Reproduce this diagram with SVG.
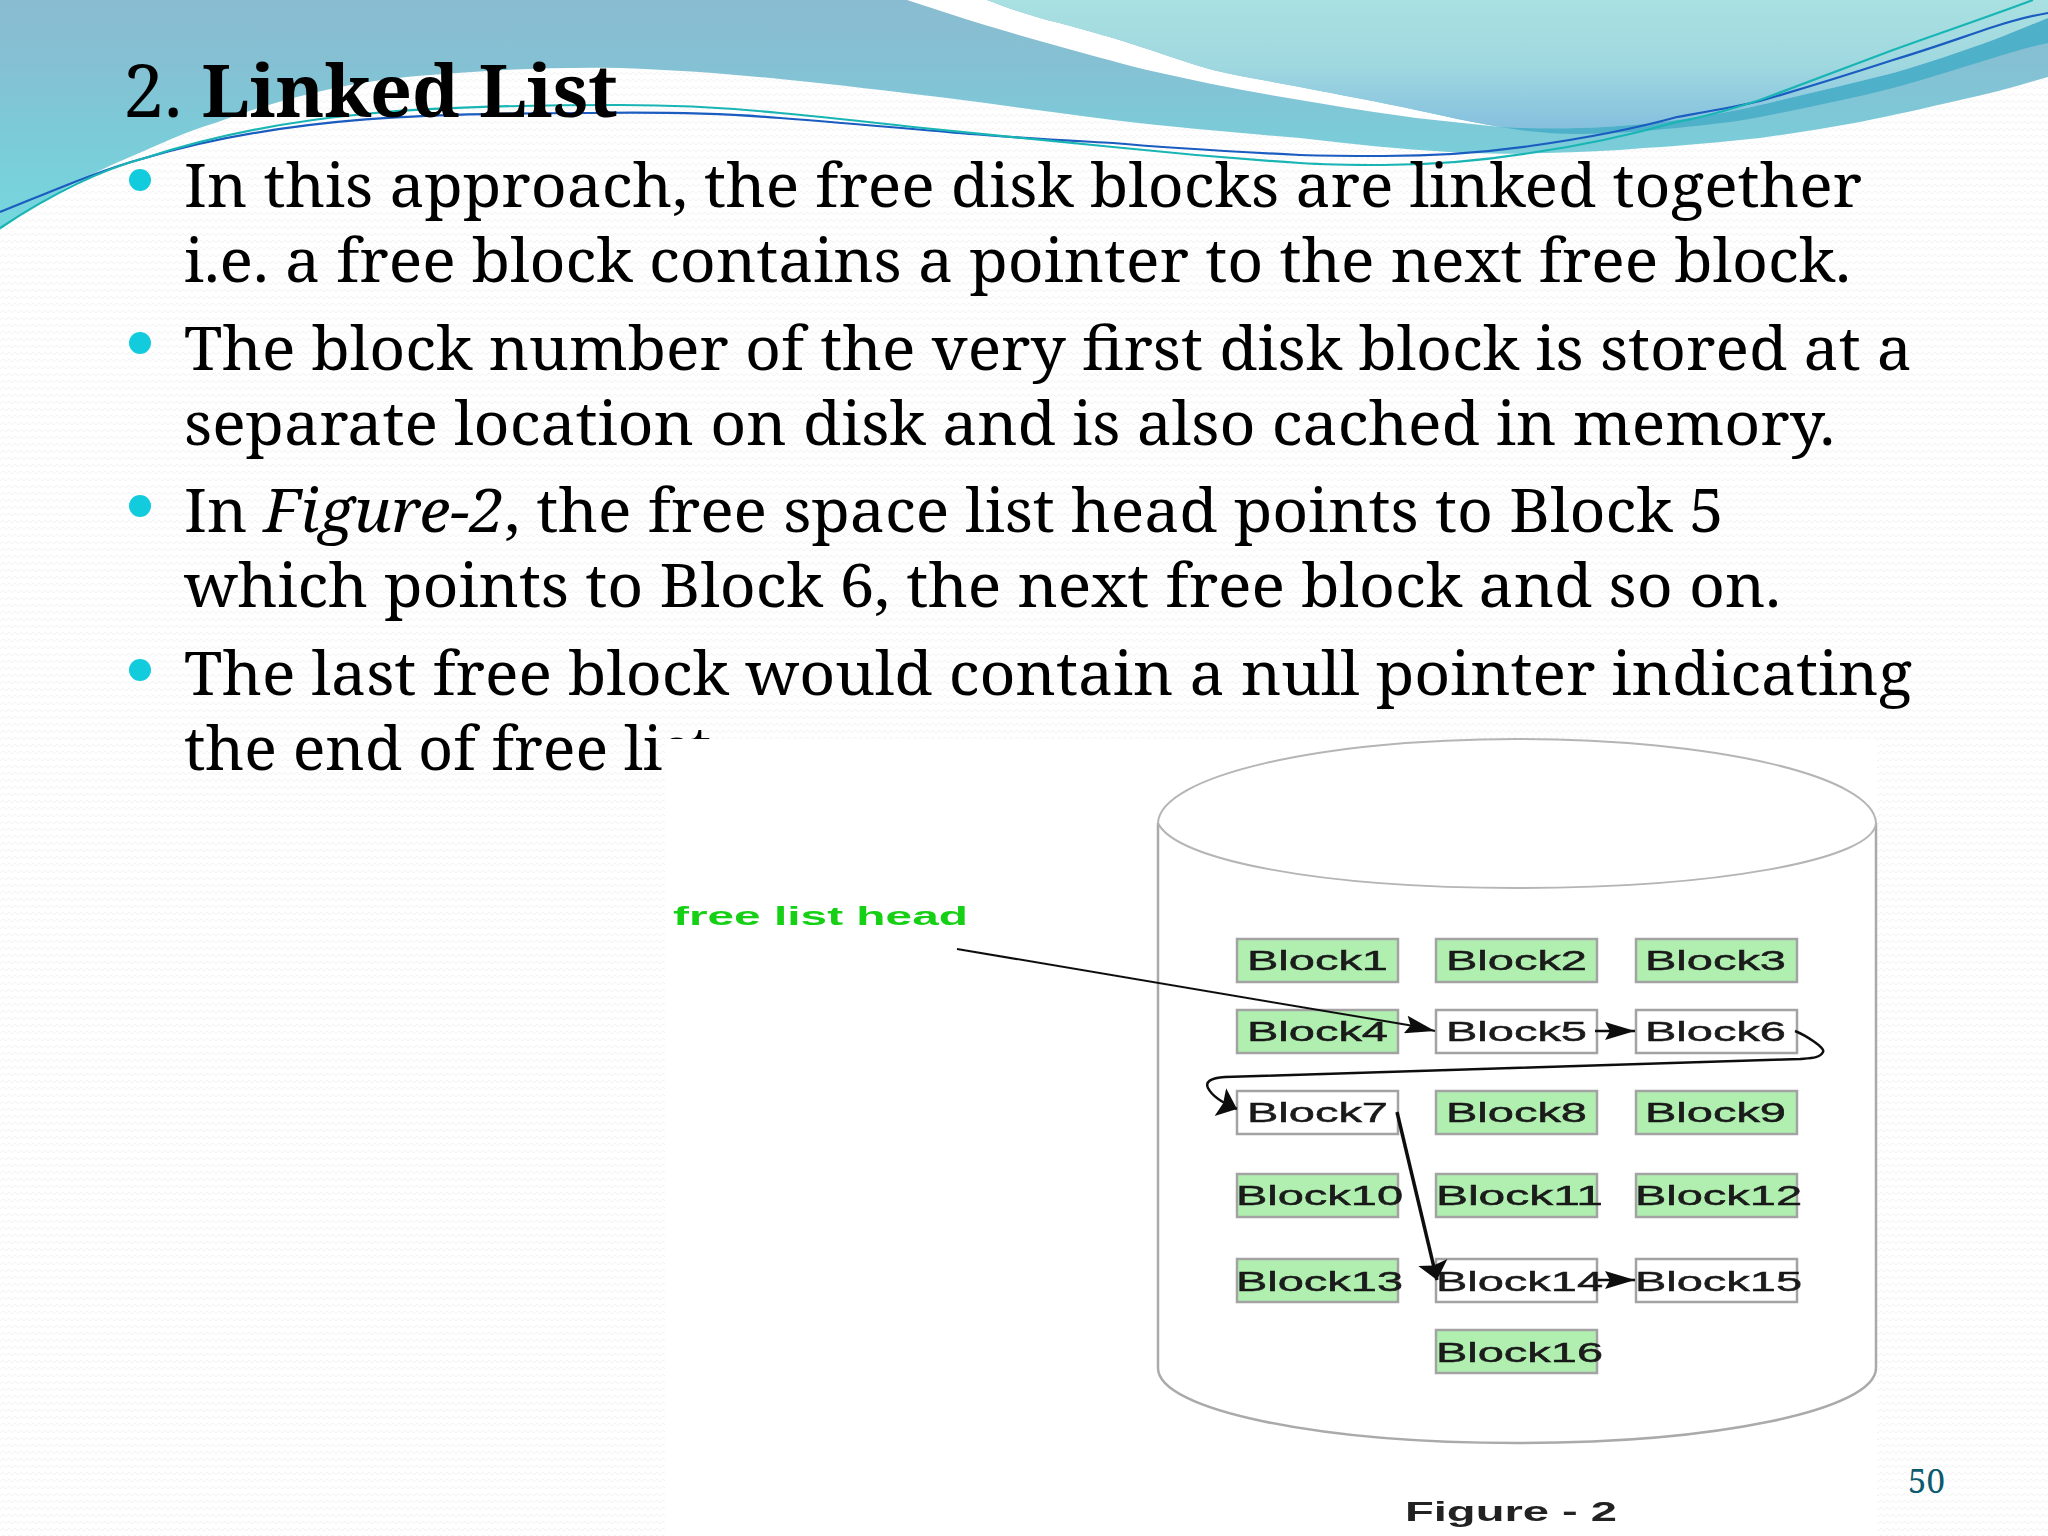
<svg xmlns="http://www.w3.org/2000/svg" width="2048" height="1536" viewBox="0 0 2048 1536">
<style>
.b{font-family:"Noto Serif","DejaVu Serif",serif;font-size:61px;fill:#000}
.t{font-family:"Noto Serif","DejaVu Serif",serif;font-size:73.5px;fill:#000}
.lbl{font-family:"Liberation Sans",Arial,sans-serif;font-size:28px;fill:#1a1a1a;stroke:#1a1a1a;stroke-width:.5}
.g{fill:#b0efb0;stroke:#a3a3a3;stroke-width:2.5}
.w{fill:#fff;stroke:#a3a3a3;stroke-width:2.5}
.c{fill:none;stroke:#111;stroke-width:2.5}
.dot{fill:#12cbdc}
</style>
<defs>
<pattern id="tex" patternUnits="userSpaceOnUse" width="12" height="7"><rect width="12" height="7" fill="#fff"/><path d="M0 5L3 2L6 5L9 2L12 5" fill="none" stroke="#f3f3f3"/></pattern>
<linearGradient id="g1" gradientUnits="userSpaceOnUse" x1="0" y1="0" x2="0" y2="235"><stop offset="0" stop-color="#8abcd1"/><stop offset=".26" stop-color="#85c0d3"/><stop offset=".55" stop-color="#7ccad8"/><stop offset="1" stop-color="#74d8de"/></linearGradient>
<linearGradient id="g2" gradientUnits="userSpaceOnUse" x1="0" y1="0" x2="0" y2="130"><stop offset="0" stop-color="#a9e0e1"/><stop offset=".5" stop-color="#a0d8e0"/><stop offset="1" stop-color="#84bfde"/></linearGradient>
<filter id="soft" x="-5%" y="-5%" width="110%" height="110%"><feGaussianBlur stdDeviation="0.6"/></filter>
<marker id="ah" markerUnits="userSpaceOnUse" markerWidth="32" markerHeight="18" refX="30" refY="9" orient="auto"><path d="M0 0L30 9L0 18L5 9Z" fill="#111"/></marker>
<marker id="av" markerUnits="userSpaceOnUse" markerWidth="20" markerHeight="32" refX="18" refY="16" orient="auto"><path d="M0 1L18 16L0 31L3 16Z" fill="#111"/></marker>
</defs>
<rect id="background" width="2048" height="1536" fill="url(#tex)"/>
<g id="waves">
<path d="M0 230C40 200 85 176 130 157C160 144 185 132 215 123C250 110 285 99 326 90C370 80 410 76 457 73C510 69 565 67 620 68C680 70 730 74 780 79C840 85 890 91 947 98C1000 105 1060 113 1113 120C1180 128 1240 133 1300 138C1350 144 1400 149 1449 152C1480 154 1515 154 1546 153C1580 152 1612 151 1644 148C1680 146 1720 142 1760 138C1795 133 1828 128 1860 122C1895 115 1925 108 1960 100C1990 94 2020 85 2048 77V0H0Z" fill="url(#g1)"/>
<path d="M907 0L947 13C980 24 1015 34 1047 43C1080 52 1115 62 1147 70C1200 82 1250 92 1300 100C1340 107 1380 113 1416 118L1500 127C1470 122 1445 116 1416 110C1380 102 1340 95 1300 87C1270 81 1240 77 1213 70C1180 61 1150 49 1113 38C1095 33 1080 28 1047 20C1025 14 1005 7 987 0Z" fill="#fff"/>
<path d="M1500 127C1530 132 1555 134 1579 134C1610 134 1645 131 1677 128C1705 125 1735 122 1760 117C1805 108 1850 99 1893 88C1930 78 1960 68 1993 58C2012 52 2030 47 2048 43V18C2030 25 2012 33 1993 40C1960 52 1928 63 1893 73C1850 84 1805 94 1760 105C1730 112 1705 116 1677 120C1620 128 1560 130 1500 127Z" fill="#4fb0c9"/>
<path d="M987 0H2048V18C2030 25 2012 33 1993 40C1960 52 1928 63 1893 73C1850 84 1805 94 1760 105C1730 112 1705 116 1677 120C1620 128 1560 130 1500 127C1470 122 1445 116 1416 110C1380 102 1340 95 1300 87C1270 81 1240 77 1213 70C1180 61 1150 49 1113 38C1095 33 1080 28 1047 20C1025 14 1005 7 987 0Z" fill="url(#g2)"/>
<path d="M0 212C50 192 100 170 145 158C290 115 440 113 590 113C660 112 720 113 780 118C835 122 890 127 947 132C1000 137 1060 140 1113 143C1180 149 1240 152 1300 155C1330 156 1355 156 1383 156C1430 156 1480 153 1530 146C1580 139 1630 130 1677 117C1705 112 1735 107 1760 101C1805 88 1850 74 1893 60C1930 49 1960 38 1993 27C2012 21 2030 16 2048 13" fill="none" stroke="#1a5cc0" stroke-width="2.2"/>
<path d="M0 228C50 195 100 170 145 158C290 110 440 105 620 105C680 105 730 108 780 113C825 117 870 122 913 127C980 134 1050 141 1113 147C1180 154 1240 159 1300 163C1330 165 1355 165 1383 165C1430 165 1480 161 1530 153C1580 146 1630 135 1677 122C1705 117 1735 108 1760 100C1805 83 1850 66 1893 50C1940 33 1985 18 2033 0" fill="none" stroke="#19b5b5" stroke-width="2.2"/>
</g>
<g id="slide-text">
<text class="t" x="123" y="117">2. <tspan font-weight="700">Linked List</tspan></text>
<ellipse class="dot" cx="140" cy="180" rx="11" ry="11"/>
<text class="b" x="184" y="207" textLength="1678" lengthAdjust="spacingAndGlyphs">In this approach, the free disk blocks are linked together</text>
<text class="b" x="184" y="282" textLength="1667" lengthAdjust="spacingAndGlyphs">i.e. a free block contains a pointer to the next free block.</text>
<ellipse class="dot" cx="140" cy="343" rx="11" ry="11"/>
<text class="b" x="184" y="370" textLength="1728" lengthAdjust="spacingAndGlyphs">The block number of the very first disk block is stored at a</text>
<text class="b" x="184" y="445" textLength="1651" lengthAdjust="spacingAndGlyphs">separate location on disk and is also cached in memory.</text>
<ellipse class="dot" cx="140" cy="506" rx="11" ry="11"/>
<text class="b" x="184" y="532" textLength="1540" lengthAdjust="spacingAndGlyphs">In <tspan font-style="italic">Figure-2</tspan>, the free space list head points to Block 5</text>
<text class="b" x="184" y="607" textLength="1597" lengthAdjust="spacingAndGlyphs">which points to Block 6, the next free block and so on.</text>
<ellipse class="dot" cx="140" cy="670" rx="11" ry="11"/>
<text class="b" x="184" y="695" textLength="1728" lengthAdjust="spacingAndGlyphs">The last free block would contain a null pointer indicating</text>
<text class="b" x="184" y="770">the end of free list.</text>
</g>
<rect id="figure-panel" x="665" y="739" width="1212" height="797" fill="#fff"/>
<g id="figure" filter="url(#soft)">
<path id="cylinder" d="M1158 823V1368C1158 1410 1318 1443 1517 1443C1716 1443 1876 1410 1876 1368V823" fill="none" stroke="#aaa" stroke-width="2.5"/>
<path id="cylinder-top" d="M1158 823C1160 776 1320 739 1517 739C1714 739 1874 776 1876 823C1874 860 1714 888 1517 888C1320 888 1175 860 1158 823Z" fill="#fff" stroke="#b5b5b5" stroke-width="2"/>
<g id="free-list-head"><text x="673" y="925" textLength="295" lengthAdjust="spacingAndGlyphs" font-family="Liberation Sans,Arial,sans-serif" font-size="26" font-weight="700" fill="#15d015">free list head</text></g>
<g id="Block1"><rect class="g" x="1237" y="939" width="161" height="43"/><text class="lbl" x="1247" y="970" textLength="141" lengthAdjust="spacingAndGlyphs">Block1</text></g>
<g id="Block2"><rect class="g" x="1436" y="939" width="161" height="43"/><text class="lbl" x="1446" y="970" textLength="141" lengthAdjust="spacingAndGlyphs">Block2</text></g>
<g id="Block3"><rect class="g" x="1636" y="939" width="161" height="43"/><text class="lbl" x="1645" y="970" textLength="141" lengthAdjust="spacingAndGlyphs">Block3</text></g>
<g id="Block4"><rect class="g" x="1237" y="1010" width="161" height="43"/><text class="lbl" x="1247" y="1041" textLength="141" lengthAdjust="spacingAndGlyphs">Block4</text></g>
<g id="Block5"><rect class="w" x="1436" y="1010" width="161" height="43"/><text class="lbl" x="1446" y="1041" textLength="141" lengthAdjust="spacingAndGlyphs">Block5</text></g>
<g id="Block6"><rect class="w" x="1636" y="1010" width="161" height="43"/><text class="lbl" x="1645" y="1041" textLength="141" lengthAdjust="spacingAndGlyphs">Block6</text></g>
<g id="Block7"><rect class="w" x="1237" y="1091" width="161" height="43"/><text class="lbl" x="1247" y="1122" textLength="141" lengthAdjust="spacingAndGlyphs">Block7</text></g>
<g id="Block8"><rect class="g" x="1436" y="1091" width="161" height="43"/><text class="lbl" x="1446" y="1122" textLength="141" lengthAdjust="spacingAndGlyphs">Block8</text></g>
<g id="Block9"><rect class="g" x="1636" y="1091" width="161" height="43"/><text class="lbl" x="1645" y="1122" textLength="141" lengthAdjust="spacingAndGlyphs">Block9</text></g>
<g id="Block10"><rect class="g" x="1237" y="1174" width="161" height="43"/><text class="lbl" x="1236" y="1205" textLength="167" lengthAdjust="spacingAndGlyphs">Block10</text></g>
<g id="Block11"><rect class="g" x="1436" y="1174" width="161" height="43"/><text class="lbl" x="1436" y="1205" textLength="167" lengthAdjust="spacingAndGlyphs">Block11</text></g>
<g id="Block12"><rect class="g" x="1636" y="1174" width="161" height="43"/><text class="lbl" x="1635" y="1205" textLength="167" lengthAdjust="spacingAndGlyphs">Block12</text></g>
<g id="Block13"><rect class="g" x="1237" y="1259" width="161" height="43"/><text class="lbl" x="1236" y="1291" textLength="167" lengthAdjust="spacingAndGlyphs">Block13</text></g>
<g id="Block14"><rect class="w" x="1436" y="1259" width="161" height="43"/><text class="lbl" x="1436" y="1291" textLength="167" lengthAdjust="spacingAndGlyphs">Block14</text></g>
<g id="Block15"><rect class="w" x="1636" y="1259" width="161" height="43"/><text class="lbl" x="1635" y="1291" textLength="167" lengthAdjust="spacingAndGlyphs">Block15</text></g>
<g id="Block16"><rect class="g" x="1436" y="1330" width="161" height="43"/><text class="lbl" x="1436" y="1362" textLength="167" lengthAdjust="spacingAndGlyphs">Block16</text></g>
<g id="figure-caption"><text x="1405" y="1521" textLength="212" lengthAdjust="spacingAndGlyphs" font-family="Liberation Sans,Arial,sans-serif" font-size="27" font-weight="700" fill="#222">Figure - 2</text></g>
<g id="connectors">
<path class="c" style="stroke-width:2" d="M957 949L1408 1025L1435 1031" marker-end="url(#ah)"/>
<path class="c" d="M1595 1031H1635" marker-end="url(#ah)"/>
<path class="c" d="M1795 1031C1805 1035 1826 1048 1823 1052C1820 1058 1812 1058 1800 1059C1600 1066 1400 1070 1225 1077C1210 1078 1205 1082 1208 1088C1212 1096 1225 1104 1237 1109" marker-end="url(#av)"/>
<path class="c" style="stroke-width:3.5" d="M1397 1112L1437 1280" marker-end="url(#av)"/>
<path class="c" d="M1598 1280H1635" marker-end="url(#ah)"/>
</g>
</g>
<text id="page-number" x="1908" y="1493" font-family="Noto Serif,DejaVu Serif,serif" font-size="33" fill="#0b5a70">50</text>
</svg>
